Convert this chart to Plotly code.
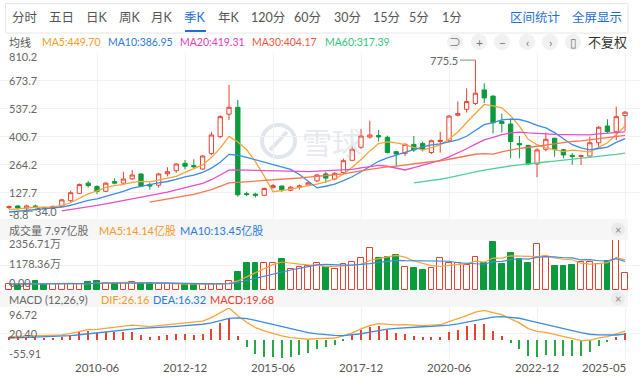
import numpy as np
import pandas as pd
import plotly.graph_objects as go

# ---------------- data (quarterly K, 不复权) ----------------
tick_index = [10, 20, 30, 40, 50, 60, 70]
tick_labels = ["2010-06", "2012-12", "2015-06", "2017-12", "2020-06", "2022-12", "2025-05"]

open_ = [52, 60, 50, 60, 52, 50, 58, 86, 122, 172,
         155, 132, 180, 172, 193, 217, 165, 162, 218, 233,
         269, 258, 241, 318, 400, 510, 544, 120, 118, 112,
         150, 158, 137, 152, 163, 183, 217, 192, 224, 284,
         348, 398, 405, 397, 326, 318, 362, 366, 322, 376,
         380, 505, 534, 563, 629, 599, 475, 462, 366, 357,
         266, 338, 392, 336, 308, 303, 305, 370, 452, 424, 503]
high_ = [62, 64, 66, 66, 56, 62, 95, 135, 170, 182,
         162, 176, 196, 228, 236, 220, 175, 222, 250, 268,
         285, 289, 310, 424, 505, 653, 580, 130, 125, 150,
         168, 160, 158, 165, 180, 218, 228, 226, 292, 351,
         438, 478, 433, 405, 330, 368, 403, 375, 385, 424,
         505, 572, 637, 775.5, 662, 602, 513, 489, 403, 360,
         343, 420, 395, 340, 320, 312, 400, 452, 485, 547, 525]
low_ = [45, 42, 34.0, 48, 46, 47, 55, 80, 118, 150,
        118, 128, 166, 168, 188, 152, 140, 150, 205, 222,
        240, 245, 238, 310, 392, 482, 105, 108, 102, 108,
        145, 128, 132, 140, 158, 178, 174, 186, 220, 280,
        340, 390, 376, 318, 253, 305, 325, 328, 315, 321,
        375, 500, 518, 555, 565, 416, 420, 294, 294, 260,
        201, 328, 302, 294, 262, 261, 298, 346, 418, 383, 428]
close_ = [56, 50, 60, 55, 51, 58, 90, 125, 165, 160,
          132, 172, 172, 192, 212, 157, 158, 217, 228, 266,
          255, 252, 305, 408, 498, 544, 115, 116, 112, 146,
          160, 140, 152, 158, 174, 212, 197, 220, 282, 338,
          403, 408, 399, 322, 315, 362, 335, 338, 380, 382,
          501, 513, 572, 613, 590, 468, 465, 376, 360, 266,
          335, 387, 336, 310, 303, 306, 370, 446, 425, 498, 520]
volume = [280, 240, 290, 420, 280, 270, 290, 300, 300, 380,
          420, 320, 310, 350, 360, 320, 310, 280, 270, 280,
          270, 260, 280, 300, 300, 420, 834, 1288, 1288, 1288,
          1288, 1445, 990, 1069, 1131, 1257, 1069, 975, 1225, 1304,
          1493, 1964, 1493, 1571, 1650, 1069, 1053, 943, 1021, 1493,
          1288, 1257, 1178, 1571, 1257, 2278, 1225, 1728, 1461, 1288,
          2152, 1540, 1131, 1131, 1178, 1335, 1335, 1225, 1382, 2356.71, 797]
# quarters before the visible window (only feed the moving averages)
hist_close = [10, 11, 12, 13, 14, 16, 18, 20, 24, 30, 36, 42, 48]
hist_volume = [150, 180, 200, 220, 250, 260, 240, 280, 300, 260, 280, 300, 290]

price_ticks = [810.2, 673.7, 537.2, 400.7, 264.2, 127.7, -8.8]
vol_ticks = [2356.71, 1178.36, 0.0]
vol_tick_text = ["2356.71万", "1178.36万", "0.00"]
macd_ticks = [96.72, 20.40, -55.91]

ma_periods = [5, 10, 20, 30, 60]
ma_values_text = ["449.70", "386.95", "419.31", "404.17", "317.39"]
vol_header = ["成交量 7.97亿股", "MA5:14.14亿股", "MA10:13.45亿股"]
macd_header = ["MACD (12,26,9)", "DIF:26.16", "DEA:16.32", "MACD:19.68"]
tabs = ["分时", "五日", "日K", "周K", "月K", "季K", "年K", "120分", "60分", "30分", "15分", "5分", "1分"]

# ---------------- styles ----------------
RED = "#ea4030"
GREEN = "#0b9a3c"
MA_COLORS = ["#f9a43a", "#3b8de0", "#e64fcb", "#f7764f", "#52cf9c"]
MA_TEXT = ["#f59a26", "#2b7bd6", "#e03bbf", "#f0573a", "#2fc680"]
BLUE_UI = "#1f6fd3"
GRAY = "#666666"
FONT = "Lato, 'Noto Sans CJK SC', sans-serif"
W, Hh = 640, 380

def xp(px):
    return px / W

def yp(py):
    return 1 - py / Hh

n = len(close_)
idx = list(range(n))
H = len(hist_close)
full_close = pd.Series(hist_close + close_, dtype=float)
full_vol = pd.Series(hist_volume + volume, dtype=float)

ma = {p: full_close.rolling(p).mean().iloc[H:].tolist() for p in ma_periods}
vma5 = full_vol.rolling(5).mean().iloc[H:].tolist()
vma10 = full_vol.rolling(10).mean().iloc[H:].tolist()
ema12 = full_close.ewm(span=12, adjust=False).mean()
ema26 = full_close.ewm(span=26, adjust=False).mean()
dif_s = ema12 - ema26
dea_s = dif_s.ewm(span=9, adjust=False).mean()
hist_s = 2 * (dif_s - dea_s)
dif = dif_s.iloc[H:].tolist()
dea = dea_s.iloc[H:].tolist()
macd_hist = hist_s.iloc[H:].tolist()

up = [c >= o for o, c in zip(open_, close_)]

fig = go.Figure()
fig.add_trace(go.Candlestick(
    x=idx, open=open_, high=high_, low=low_, close=close_,
    increasing=dict(line=dict(color=RED, width=1), fillcolor="white"),
    decreasing=dict(line=dict(color=GREEN, width=1), fillcolor=GREEN),
    whiskerwidth=0, hoverinfo="skip", yaxis="y"))
for p, col in zip(ma_periods, MA_COLORS):
    fig.add_trace(go.Scatter(x=idx, y=ma[p], mode="lines",
                             line=dict(color=col, width=1.3), yaxis="y", hoverinfo="skip"))

fig.add_trace(go.Bar(
    x=idx, y=volume, width=0.66, yaxis="y2",
    marker=dict(color=["white" if u else GREEN for u in up],
                line=dict(color=[RED if u else GREEN for u in up], width=1)),
    hoverinfo="skip"))
fig.add_trace(go.Scatter(x=idx, y=vma5, mode="lines", line=dict(color=MA_COLORS[0], width=1.2),
                         yaxis="y2", hoverinfo="skip"))
fig.add_trace(go.Scatter(x=idx, y=vma10, mode="lines", line=dict(color=MA_COLORS[1], width=1.2),
                         yaxis="y2", hoverinfo="skip"))

fig.add_trace(go.Bar(
    x=idx, y=macd_hist, width=0.14, yaxis="y3",
    marker=dict(color=[RED if v >= 0 else "#27a845" for v in macd_hist], line=dict(width=0)),
    hoverinfo="skip"))
fig.add_trace(go.Scatter(x=idx, y=dif, mode="lines", line=dict(color=MA_COLORS[0], width=1.3),
                         yaxis="y3", hoverinfo="skip"))
fig.add_trace(go.Scatter(x=idx, y=dea, mode="lines", line=dict(color=MA_COLORS[1], width=1.3),
                         yaxis="y3", hoverinfo="skip"))

ann = []
def text(px, py, s, color="#333", size=11, anchor="left", **kw):
    ann.append(dict(x=xp(px), y=yp(py), xref="paper", yref="paper", text=s, showarrow=False,
                    xanchor=anchor, yanchor="middle", font=dict(family=FONT, size=size, color=color), **kw))

# tab bar
tab_x = [25, 61, 97, 130, 162, 195, 229, 268, 307, 347, 386, 419, 452]
for t, x in zip(tabs, tab_x):
    text(x, 17, t, color=BLUE_UI if t == "季K" else "#555", size=12.5, anchor="center")
text(535, 17, "区间统计", color=BLUE_UI, size=12.5, anchor="center")
text(597, 17, "全屏显示", color=BLUE_UI, size=12.5, anchor="center")

# MA legend row
text(7, 42, "均线", color="#555", size=11)
legend_x = [40, 106, 178, 250, 323]
for p, v, c, x in zip(ma_periods, ma_values_text, MA_TEXT, legend_x):
    text(x, 42, f"MA{p}:{v}", color=c, size=10.5)
icons = ["⊃", "+", "−", "‹", "›", "▯"]
icon_x = [455, 479, 502, 527, 550, 573]
shapes = []
for s, x in zip(icons, icon_x):
    shapes.append(dict(type="circle", xref="paper", yref="paper", x0=xp(x - 8), x1=xp(x + 8),
                       y0=yp(50), y1=yp(34), fillcolor="#f1f1f1", line=dict(width=0), layer="below"))
    text(x, 42, s, color="#777", size=12, anchor="center")
text(607, 42, "不复权", color="#333", size=13, anchor="center")

# tab box + underline
shapes.append(dict(type="rect", xref="paper", yref="paper", x0=xp(5.5), x1=xp(628), y0=yp(33), y1=yp(3.5),
                   line=dict(color="#e6e6e6", width=1)))
shapes.append(dict(type="line", xref="paper", yref="paper", x0=xp(185), x1=xp(206), y0=yp(31), y1=yp(31),
                   line=dict(color=BLUE_UI, width=2)))

# header bands
for (a, b) in [(219, 240), (290, 307)]:
    shapes.append(dict(type="rect", xref="paper", yref="paper", x0=0, x1=xp(628), y0=yp(b), y1=yp(a),
                       fillcolor="#f6f6f6", line=dict(width=0), layer="above"))
    shapes.append(dict(type="circle", xref="paper", yref="paper", x0=xp(611), x1=xp(625),
                       y0=yp((a + b) / 2 + 7), y1=yp((a + b) / 2 - 7), fillcolor="#ebebeb",
                       line=dict(width=0), layer="above"))
    text(618, (a + b) / 2, "×", color="#888", size=11, anchor="center")

vh_x = [7, 97, 178]
vh_c = [GRAY, MA_TEXT[0], MA_TEXT[1]]
for s, x, c in zip(vol_header, vh_x, vh_c):
    text(x, 230, s, color=c, size=11)
mh_x = [7, 99, 151, 208]
mh_c = [GRAY, MA_TEXT[0], MA_TEXT[1], RED]
for s, x, c in zip(macd_header, mh_x, mh_c):
    text(x, 299, s, color=c, size=11)

# y labels
def ylab(axis, val, s, shift):
    ann.append(dict(x=xp(7), xref="paper", y=val, yref=axis, text=s, showarrow=False, xanchor="left",
                    yanchor="middle", yshift=shift, font=dict(family=FONT, size=11, color=GRAY)))
for i, v in enumerate(price_ticks):
    shift = -4 if i == 0 else (6 if i == len(price_ticks) - 1 else 0)
    ylab("y", v, f"{v:.1f}", shift)
for v, s, sh in zip(vol_ticks, vol_tick_text, [-3, 2, 8]):
    ylab("y2", v, s, sh)
for v, sh in zip(macd_ticks, [-6, 0, 5]):
    ylab("y3", v, f"{v:.2f}", sh)

# x labels
for k, (i, s) in enumerate(zip(tick_index, tick_labels)):
    last = k == len(tick_index) - 1
    ann.append(dict(x=i, xref="x", y=yp(367), yref="paper", text=s, showarrow=False,
                    xanchor="right" if last else "center", xshift=3 if last else 0, yanchor="middle",
                    font=dict(family=FONT, size=11.5, color="#555")))

# max / min markers
imax = int(np.argmax(high_))
imin = int(np.argmin(low_))
shapes.append(dict(type="line", xref="x", yref="y", x0=imax - 1.75, x1=imax, y0=high_[imax], y1=high_[imax],
                   line=dict(color="#888", width=1)))
ann.append(dict(x=imax - 1.75, xref="x", y=high_[imax], yref="y", text=f"{high_[imax]:.1f}", showarrow=False,
                xanchor="right", yanchor="middle", font=dict(family=FONT, size=11, color=GRAY)))
shapes.append(dict(type="line", xref="x", yref="y", x0=imin, x1=imin + 0.7, y0=low_[imin], y1=low_[imin],
                   line=dict(color="#888", width=1)))
ann.append(dict(x=imin + 0.7, xref="x", y=low_[imin], yref="y", text=f"{low_[imin]:.1f}", showarrow=False,
                xanchor="left", yanchor="middle", font=dict(family=FONT, size=11, color=GRAY)))

# watermark
shapes.append(dict(type="circle", xref="paper", yref="paper", x0=xp(262), x1=xp(295), y0=yp(157), y1=yp(125),
                   line=dict(color="rgba(205,213,225,0.6)", width=4), layer="below"))
shapes.append(dict(type="line", xref="paper", yref="paper", x0=xp(270), x1=xp(287), y0=yp(150), y1=yp(132),
                   line=dict(color="rgba(205,213,225,0.6)", width=4), layer="below"))
ann.append(dict(x=xp(332), y=yp(141), xref="paper", yref="paper", text="雪球", showarrow=False,
                font=dict(family="'Noto Sans CJK SC'", size=30, color="rgba(200,208,222,0.45)")))

grid = "#f1f1f1"
fig.update_layout(
    width=W, height=Hh, margin=dict(l=0, r=0, t=0, b=0),
    paper_bgcolor="white", plot_bgcolor="white", showlegend=False, hovermode=False,
    bargap=0, barmode="overlay",
    xaxis=dict(domain=[0, 1], range=[-1.023, 71.7], tickvals=tick_index, showticklabels=False,
               showgrid=True, gridcolor=grid, zeroline=False, rangeslider=dict(visible=False),
               anchor="y3", fixedrange=True, showline=False, ticks=""),
    yaxis=dict(domain=[yp(220), yp(53)], range=[-8.8, 810.2], tickvals=price_ticks, showticklabels=False,
               showgrid=True, gridcolor=grid, zeroline=False, fixedrange=True),
    yaxis2=dict(domain=[yp(290), yp(240)], range=[0, 2356.71], tickvals=vol_ticks, showticklabels=False,
                showgrid=True, gridcolor=grid, zeroline=False, fixedrange=True),
    yaxis3=dict(domain=[yp(358), yp(308)], range=[-55.91, 96.72], tickvals=macd_ticks, showticklabels=False,
                showgrid=True, gridcolor=grid, zeroline=False, fixedrange=True),
    annotations=ann, shapes=shapes,
)
fig.write_html("out.html")
